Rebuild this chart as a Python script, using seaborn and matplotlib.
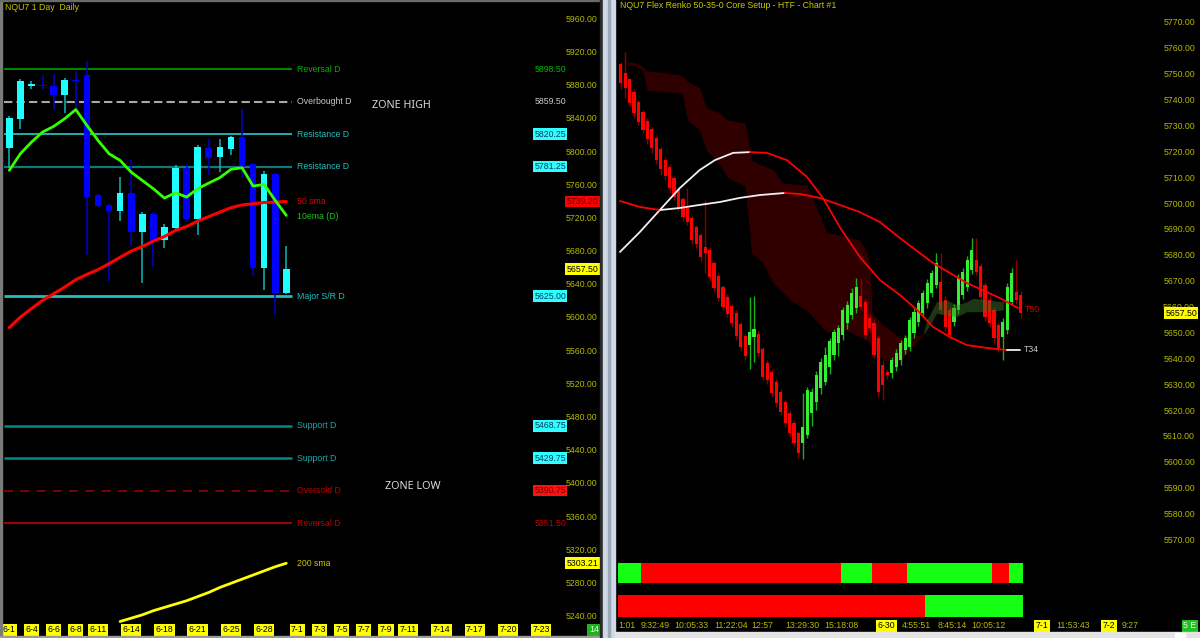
import numpy as np
import pandas as pd
import matplotlib
matplotlib.use("Agg")
import matplotlib.pyplot as plt
import matplotlib.transforms as mtransforms
from matplotlib.patches import Rectangle
import seaborn as sns

sns.set_style("dark")
plt.rcParams['font.family'] = ['Liberation Sans', 'DejaVu Sans']
plt.rcParams['axes.unicode_minus'] = False

# ======================= DATA: daily panel =======================
daily_open  = [5804, 5839, 5879, 5880, 5878, 5867, 5886, 5892, 5747, 5735, 5728, 5749, 5702,
               5724, 5693, 5707, 5779, 5718, 5804, 5793, 5802, 5817, 5784, 5659, 5772, 5629]
daily_close = [5840, 5885, 5880, 5878, 5867, 5886, 5884, 5745, 5734, 5728, 5749, 5702, 5724,
               5692, 5708, 5780, 5718, 5805, 5792, 5805, 5817, 5781, 5659, 5772, 5629, 5657.5]
daily_high  = [5842, 5887, 5884, 5892, 5893, 5888, 5897, 5908, 5748, 5736, 5769, 5789, 5727,
               5727, 5712, 5783, 5784, 5807, 5814, 5815, 5818, 5851, 5785, 5776, 5773, 5686]
daily_low   = [5779, 5827, 5875, 5873, 5849, 5846, 5851, 5675, 5733, 5643, 5716, 5686, 5641,
               5660, 5683, 5706, 5714, 5699, 5771, 5775, 5795, 5767, 5650, 5632, 5602, 5628]
ema10  = [5776.7, 5796.8, 5810.8, 5822.9, 5829.7, 5839.0, 5850.0, 5831.0, 5812.9, 5796.8, 5788.7,
          5774.6, 5764.6, 5754.6, 5743.3, 5749.8, 5744.5, 5754.6, 5761.4, 5767.9, 5777.9, 5780.0,
          5757.8, 5759.8, 5740.5, 5722.4]
sma50  = [5587.3, 5599.8, 5610.0, 5620.0, 5628.0, 5636.0, 5645.0, 5651.3, 5657.0, 5664.2, 5672.0,
          5679.4, 5685.0, 5691.4, 5697.0, 5704.3, 5709.0, 5715.5, 5721.0, 5726.4, 5731.7, 5735.0,
          5736.5, 5738.0, 5738.5, 5739.2]
sma200_bars = [10, 11, 12, 13, 14, 15, 16, 17, 18, 19, 20, 21, 22, 23, 24, 25]
sma200 = [5233, 5237, 5241, 5246, 5250, 5254, 5258, 5263, 5268, 5274, 5279, 5284, 5289, 5294,
          5299, 5303.21]
level_names  = ["Reversal D", "Overbought D", "Resistance D", "Resistance D", "Major S/R D",
                "Support D", "Support D", "Oversold D", "Reversal D"]
level_values = [5898.50, 5859.50, 5820.25, 5781.25, 5625.00, 5468.75, 5429.75, 5390.75, 5351.50]
daily_ticks = [5960, 5920, 5880, 5840, 5800, 5760, 5720, 5680, 5640, 5600, 5560, 5520, 5480,
               5440, 5400, 5360, 5320, 5280, 5240]
date_labels = ["6-1", "6-4", "6-6", "6-8", "6-11", "6-14", "6-18", "6-21", "6-25", "6-28",
               "7-1", "7-3", "7-5", "7-7", "7-9", "7-11", "7-14", "7-17", "7-20", "7-23"]
date_label_bars = [0, 2, 4, 6, 8, 11, 14, 17, 20, 23, 26, 28, 30, 32, 34, 36, 39, 42, 45, 48]

# ======================= DATA: renko panel =======================
renko_open  = [5753.8, 5750.2, 5747.8, 5743.1, 5739.2, 5735.3, 5731.7, 5728.5, 5725.0, 5720.8,
               5716.6, 5713.8, 5709.6, 5705.3, 5701.4, 5698.0, 5694.1, 5690.6, 5687.5, 5683.1,
               5681.9, 5676.7, 5671.8, 5667.4, 5663.8, 5660.2, 5657.4, 5653.2, 5648.6, 5645.1,
               5648.1, 5649.4, 5643.6, 5638.3, 5634.8, 5631.0, 5627.1, 5623.2, 5619.0, 5614.9,
               5611.2, 5607.1, 5610.3, 5619.0, 5623.2, 5628.4, 5631.0, 5636.5, 5641.3, 5645.8,
               5649.0, 5653.5, 5656.7, 5659.3, 5664.1, 5661.9, 5655.4, 5653.5, 5647.7, 5637.4,
               5634.8, 5634.2, 5636.7, 5639.3, 5643.2, 5644.5, 5649.6, 5654.1, 5657.4, 5661.2,
               5665.1, 5668.3, 5669.6, 5662.5, 5658.7, 5654.1, 5658.7, 5664.5, 5667.7, 5674.1,
               5678.0, 5675.7, 5668.3, 5662.5, 5658.7, 5652.9, 5648.3, 5650.9, 5661.9, 5665.7,
               5664.5]
renko_close = [5746.3, 5744.4, 5738.8, 5734.7, 5731.5, 5728.3, 5724.6, 5721.2, 5716.6, 5713.0,
               5710.5, 5705.7, 5702.5, 5698.0, 5694.5, 5692.8, 5685.7, 5684.2, 5679.0, 5680.6,
               5671.5, 5667.0, 5663.2, 5660.0, 5657.1, 5653.5, 5648.6, 5644.5, 5640.9, 5650.3,
               5651.2, 5641.9, 5632.9, 5631.6, 5626.5, 5622.6, 5619.4, 5614.8, 5611.0, 5607.4,
               5603.3, 5613.6, 5627.8, 5627.1, 5633.5, 5638.7, 5641.3, 5646.8, 5650.3, 5651.6,
               5658.7, 5660.6, 5665.4, 5667.7, 5659.9, 5649.0, 5651.6, 5641.3, 5627.1, 5629.7,
               5633.5, 5639.3, 5642.2, 5645.8, 5647.7, 5654.8, 5658.0, 5661.2, 5665.1, 5669.0,
               5672.8, 5676.7, 5658.7, 5652.2, 5649.0, 5659.3, 5670.9, 5673.5, 5678.0, 5681.9,
               5673.5, 5663.8, 5656.1, 5653.5, 5647.7, 5643.8, 5654.1, 5667.7, 5672.8, 5662.5,
               5657.5]
renko_high  = [5754.7, 5758.5, 5748.5, 5744.0, 5740.0, 5736.0, 5733.0, 5729.5, 5726.0, 5721.5,
               5718.0, 5715.0, 5710.5, 5706.0, 5702.5, 5705.7, 5695.0, 5691.5, 5688.5, 5701.2,
               5683.0, 5677.5, 5673.0, 5668.5, 5665.0, 5661.0, 5658.5, 5654.0, 5649.5, 5663.8,
               5664.1, 5650.5, 5644.5, 5639.5, 5636.0, 5632.0, 5628.0, 5624.0, 5620.0, 5616.0,
               5612.0, 5626.5, 5629.0, 5628.5, 5635.0, 5640.0, 5644.5, 5648.0, 5651.5, 5653.0,
               5660.0, 5662.0, 5667.0, 5670.9, 5670.9, 5663.0, 5657.0, 5655.0, 5649.0, 5639.0,
               5636.0, 5640.5, 5643.5, 5647.0, 5649.0, 5656.0, 5659.5, 5662.5, 5666.5, 5670.5,
               5674.0, 5680.6, 5680.6, 5664.0, 5660.0, 5661.0, 5672.5, 5675.0, 5679.5, 5686.4,
               5686.4, 5677.0, 5669.5, 5664.0, 5660.0, 5654.0, 5655.5, 5669.0, 5674.8, 5678.0,
               5666.0]
renko_low   = [5744.0, 5740.5, 5737.5, 5733.0, 5730.0, 5727.0, 5723.0, 5719.5, 5715.0, 5711.0,
               5709.0, 5704.0, 5701.0, 5697.0, 5693.0, 5691.5, 5684.0, 5682.5, 5677.5, 5672.8,
               5670.0, 5665.5, 5662.0, 5658.5, 5656.0, 5652.0, 5647.0, 5643.0, 5639.5, 5635.7,
               5638.7, 5640.5, 5631.5, 5630.0, 5625.0, 5621.0, 5618.0, 5613.5, 5609.5, 5606.0,
               5601.3, 5600.9, 5609.0, 5614.0, 5620.0, 5626.0, 5629.5, 5634.0, 5639.5, 5641.0,
               5647.0, 5651.5, 5655.0, 5657.5, 5658.5, 5647.5, 5650.0, 5640.0, 5625.2, 5623.9,
               5632.0, 5632.5, 5635.0, 5637.5, 5641.5, 5643.0, 5648.0, 5652.5, 5656.0, 5659.5,
               5663.5, 5667.0, 5657.0, 5650.5, 5647.5, 5652.5, 5657.0, 5663.0, 5666.0, 5672.5,
               5672.0, 5662.0, 5654.5, 5652.0, 5646.0, 5642.5, 5639.3, 5649.5, 5660.5, 5661.0,
               5655.5]
cloud_bars   = [-0.2, 1.4, 3.7, 5.0, 5.9, 10.4, 13.8, 15.1, 17.8, 19.3, 22.3, 24.0, 28.0, 29.5,
                32.0, 34.3, 36.5, 38.1, 41.9, 43.3, 46.3, 50.0, 51.0, 53.8, 55.4, 56.1, 56.6,
                58.9, 62.7, 65.0, 68.0]
cloud_top    = [5756.5, 5754.5, 5754.2, 5752.5, 5751.1, 5750.3, 5749.3, 5746.8, 5744.5, 5736.8,
                5734.8, 5732.1, 5731.0, 5716.5, 5714.5, 5712.8, 5707.8, 5707.5, 5707.0, 5701.2,
                5688.8, 5687.2, 5686.9, 5685.7, 5681.0, 5676.0, 5657.5, 5653.0, 5648.2, 5648.6,
                5649.0]
cloud_bottom = [5756.4, 5754.0, 5752.5, 5751.4, 5743.7, 5743.0, 5742.6, 5732.1, 5728.2, 5720.5,
                5715.0, 5710.0, 5706.5, 5680.7, 5676.8, 5669.1, 5665.5, 5662.5, 5658.5, 5656.0,
                5650.2, 5651.0, 5650.5, 5648.5, 5647.1, 5645.5, 5644.5, 5639.3, 5638.6, 5643.2,
                5649.0]
gcloud_bars   = [68.0, 68.9, 71.1, 73.4, 75.6, 77.9, 79.3, 82.4, 86.1]
gcloud_top    = [5649.0, 5654.8, 5661.9, 5662.5, 5660.6, 5661.9, 5663.2, 5662.5, 5661.9]
gcloud_bottom = [5649.0, 5650.9, 5657.4, 5656.7, 5656.1, 5658.0, 5658.0, 5658.0, 5658.7]
t34_bars = [-0.16, 4.3, 8.8, 13.3, 17.8, 21.2, 25.3, 29.1, 32.9, 37.4, 41.9, 45.5, 49.3, 53.8,
            58.3, 62.8, 66.7, 70.3, 74.1, 77.9, 82.4, 86.9, 89.9]
t34_vals = [5681.1, 5688.8, 5697.3, 5705.8, 5712.8, 5716.6, 5719.4, 5719.7, 5719.4, 5716.6,
            5710.1, 5702.0, 5690.7, 5679.2, 5670.3, 5664.5, 5658.7, 5652.1, 5648.2, 5645.1,
            5644.0, 5643.2, 5643.2]
t50_bars = [-0.16, 4.3, 8.8, 13.3, 17.8, 22.3, 26.8, 31.3, 36.9, 40.3, 44.8, 49.3, 53.8, 58.3,
            62.8, 70.3, 77.9, 85.3, 89.4]
t50_vals = [5700.8, 5698.5, 5697.3, 5698.1, 5699.3, 5700.4, 5702.0, 5703.1, 5703.9, 5703.5,
            5702.0, 5699.3, 5696.5, 5692.7, 5686.5, 5676.8, 5669.1, 5663.3, 5659.4]
strip1_runs = [("up", 5), ("down", 45), ("up", 7), ("down", 8), ("up", 19), ("down", 4), ("up", 3)]
strip2_runs = [("down", 69), ("up", 22)]
renko_ticks = [5770, 5760, 5750, 5740, 5730, 5720, 5710, 5700, 5690, 5680, 5670, 5660, 5650,
               5640, 5630, 5620, 5610, 5600, 5590, 5580, 5570]
time_labels = ["9:32:49", "10:05:33", "11:22:04", "12:57", "13:29:30", "15:18:08",
               "4:55:51", "8:45:14", "10:05:12", "11:53:43", "9:27"]
time_label_bars = [7.8, 16.0, 24.8, 31.8, 40.8, 49.7, 66.6, 74.7, 82.8, 101.7, 114.7]
day_labels = ["6-30", "7-1", "7-2"]
day_label_bars = [59.8, 94.8, 109.9]

# ======================= FIGURE =======================
W, H = 1200, 638
fig = plt.figure(figsize=(12, 6.38), dpi=100, facecolor="black")
TICK_COL = "#b8b800"
FS = 6.3

def setup(ax):
    ax.set_facecolor("black")
    for s in ax.spines.values():
        s.set_visible(False)
    ax.grid(False)
    ax.set_xticks([])

# ---------------- left (daily) ----------------
axL = fig.add_axes([3 / W, 0, 597 / W, 1])
setup(axL)
pxL = 0.8297
axL.set_ylim(5960 - (638 - 18.3) / pxL, 5960 + 18.3 / pxL)
axL.set_xlim(-0.569, -0.569 + 597 / 11.08)

lx0, lx1 = -0.48, 25.5
lvl_style = [("#00a000", "-", 1.2), ("#a8a8a8", (0, (4, 2)), 1.5), ("#20b0b0", "-", 1.4),
             ("#0f7a7a", "-", 1.6), ("#20c0c0", "-", 2.0), ("#008a8a", "-", 1.8),
             ("#008a8a", "-", 1.8), ("#8b0000", (0, (5, 4)), 1.3), ("#b00000", "-", 1.3)]
lbl_col = ["#00b400", "#c8c8c8", "#20c0c0", "#20c0c0", "#20c0c0", "#20a8a8", "#20a8a8",
           "#c00000", "#c00000"]
for v, (c, ls, lw) in zip(level_values, lvl_style):
    axL.hlines(v, lx0, lx1, colors=c, linestyles=ls, lw=lw, zorder=1)

idx = np.arange(len(daily_open))
o = np.array(daily_open); c = np.array(daily_close)
up = c >= o
bot = np.minimum(o, c)
hgt = np.maximum(np.abs(c - o), 1.6)
axL.vlines(idx, daily_low, daily_high, colors=np.where(up, "#10b8b8", "#0000d0"), lw=1.1, zorder=3)
axL.bar(idx, hgt, bottom=bot, width=0.6, color=np.where(up, "#20ffff", "#0000ff"),
        linewidth=0, zorder=4)

sns.lineplot(x=idx, y=sma50, ax=axL, color="#ff0000", lw=2.2, estimator=None, sort=False,
             legend=False, zorder=5)
sns.lineplot(x=idx, y=ema10, ax=axL, color="#33ff00", lw=2.0, estimator=None, sort=False,
             legend=False, zorder=6)
sns.lineplot(x=sma200_bars, y=sma200, ax=axL, color="#ffff00", lw=2.0, estimator=None,
             sort=False, legend=False, zorder=5)

lab_x = 26.0
val_x = 50.24
axis_x = 53.15
for name, v, col in zip(level_names, level_values, lbl_col):
    axL.text(lab_x, v, name, color=col, fontsize=FS, ha="left", va="center")
val_style = ["plain", "plain", "cyan", "cyan", "cyan", "cyan", "cyan", "red", "plain"]
for v, st, col in zip(level_values, val_style, lbl_col):
    if st == "plain":
        axL.text(val_x, v, f"{v:.2f}", color=col, fontsize=FS, ha="right", va="center")
    elif st == "cyan":
        axL.text(val_x, v, f"{v:.2f}", color="#003c64", fontsize=FS, ha="right", va="center",
                 bbox=dict(boxstyle="square,pad=0.15", fc="#30ffff", ec="none"))
    else:
        axL.text(val_x, v, f"{v:.2f}", color="#700000", fontsize=FS, ha="right", va="center",
                 bbox=dict(boxstyle="square,pad=0.15", fc="#ff1010", ec="none"))

axL.text(lab_x, sma50[-1], "50 sma", color="#e00000", fontsize=FS, ha="left", va="center")
axL.text(lab_x, ema10[-1] - 1, "10ema (D)", color="#20c020", fontsize=FS, ha="left", va="center")
axL.text(lab_x, sma200[-1], "200 sma", color="#c8c800", fontsize=FS, ha="left", va="center")

axL.set_yticks(daily_ticks)
axL.set_yticklabels([f"{t:.2f}" for t in daily_ticks])
axL.yaxis.tick_right()
axL.tick_params(axis="y", length=0, pad=-2.2, colors=TICK_COL, labelsize=FS)
for t in axL.get_yticklabels():
    t.set_ha("right")
axL.text(axis_x, sma50[-1], f"{sma50[-1]:.2f}", color="#600000", fontsize=FS, ha="right",
         va="center", bbox=dict(boxstyle="square,pad=0.15", fc="#ff0000", ec="none"), zorder=8)
axL.text(axis_x, daily_close[-1], f"{daily_close[-1]:.2f}", color="black", fontsize=FS,
         ha="right", va="center", bbox=dict(boxstyle="square,pad=0.15", fc="#ffff00", ec="none"),
         zorder=8)
axL.text(axis_x, sma200[-1], f"{sma200[-1]:.2f}", color="black", fontsize=FS, ha="right",
         va="center", bbox=dict(boxstyle="square,pad=0.15", fc="#ffff00", ec="none"), zorder=8)

axL.text(35.35, 5854.3, "ZONE HIGH", color="#d8d8d8", fontsize=7.8, family="Noto Sans",
         ha="center", va="center")
axL.text(36.43, 5395.1, "ZONE LOW", color="#d8d8d8", fontsize=7.8, family="Noto Sans",
         ha="center", va="center")
axL.text(2 / 597, 1 - 7 / H, "NQU7 1 Day  Daily", transform=axL.transAxes, color="#c8c800",
         fontsize=FS, ha="left", va="center")

trL = mtransforms.blended_transform_factory(axL.transData, axL.transAxes)
for lab, b in zip(date_labels, date_label_bars):
    axL.text(b, 1 - 630 / H, lab, transform=trL, color="black", fontsize=FS, ha="center",
             va="center", bbox=dict(boxstyle="square,pad=0.15", fc="#ffff00", ec="none"), zorder=9)
axL.text(52.77, 1 - 630 / H, "14", transform=trL, color="#d8ffd8", fontsize=FS, ha="center",
         va="center", bbox=dict(boxstyle="square,pad=0.2", fc="#20b020", ec="none"), zorder=9)

# ---------------- right (renko) ----------------
axR = fig.add_axes([615 / W, 0, 585 / W, 1])
setup(axR)
pxR = 2.5867
axR.set_ylim(5770 - 616 / pxR, 5770 + 22 / pxR)
xlimR = (-1.28, -1.28 + 585 / 4.444)
axR.set_xlim(*xlimR)

axR.fill_between(cloud_bars, cloud_bottom, cloud_top, color="#300000", linewidth=0, zorder=1)

ridx = np.arange(len(renko_open))
ro = np.array(renko_open); rc = np.array(renko_close)
rup = rc >= ro
axR.vlines(ridx, renko_low, renko_high, colors=np.where(rup, "#18b018", "#8a0000"), lw=1.0,
           zorder=2)
axR.bar(ridx, np.maximum(np.abs(rc - ro), 0.6), bottom=np.minimum(ro, rc), width=0.72,
        color=np.where(rup, "#33f033", "#ff0000"), linewidth=0, zorder=3)
axR.fill_between(gcloud_bars, gcloud_bottom, gcloud_top, color="#3a7a2a", alpha=0.45,
                 linewidth=0, zorder=4)


def draw_ma(ax, xs, ys):
    xs = np.asarray(xs, float); ys = np.asarray(ys, float)
    rising = np.diff(ys) >= 0
    start = 0
    for k in range(1, len(rising) + 1):
        if k == len(rising) or rising[k] != rising[start]:
            seg = slice(start, k + 1)
            sns.lineplot(x=xs[seg], y=ys[seg], ax=ax,
                         color="#f0f0f0" if rising[start] else "#ff0000", lw=1.3,
                         estimator=None, sort=False, legend=False, zorder=5)
            start = k


draw_ma(axR, t34_bars, t34_vals)
draw_ma(axR, t50_bars, t50_vals)
axR.text(90.6, t34_vals[-1], "T34", color="#c8c8c8", fontsize=FS, ha="left", va="center")
axR.text(90.9, t50_vals[-1] - 0.5, "T50", color="#c80000", fontsize=FS, ha="left", va="center")

axR.set_yticks(renko_ticks)
axR.set_yticklabels([f"{t:.2f}" for t in renko_ticks])
axR.yaxis.tick_right()
axR.tick_params(axis="y", length=0, pad=-3.6, colors=TICK_COL, labelsize=FS)
for t in axR.get_yticklabels():
    t.set_ha("right")
axR.text(129.68, renko_close[-1], f"{renko_close[-1]:.2f}", color="black", fontsize=FS,
         ha="right", va="center", bbox=dict(boxstyle="square,pad=0.15", fc="#ffff00", ec="none"),
         zorder=8)
axR.text(5 / 585, 1 - 5 / H, "NQU7 Flex Renko 50-35-0 Core Setup - HTF - Chart #1",
         transform=axR.transAxes, color="#c8c800", fontsize=FS, ha="left", va="center")

trR = mtransforms.blended_transform_factory(axR.transData, axR.transAxes)
yl = 1 - 626 / H
axR.text(-0.5, yl, "1:01", transform=trR, color=TICK_COL, fontsize=FS, ha="left", va="center")
for lab, b in zip(time_labels, time_label_bars):
    axR.text(b, yl, lab, transform=trR, color=TICK_COL, fontsize=FS, ha="center", va="center")
for lab, b in zip(day_labels, day_label_bars):
    axR.text(b, yl, lab, transform=trR, color="black", fontsize=FS, ha="center", va="center",
             bbox=dict(boxstyle="square,pad=0.15", fc="#ffff00", ec="none"))
axR.text(128.1, yl, "5 E", transform=trR, color="#e8ffe8", fontsize=FS, ha="center",
         va="center", bbox=dict(boxstyle="square,pad=0.2", fc="#20c020", ec="none"))

# indicator strips
axS = fig.add_axes([615 / W, 1 - 620 / H, 585 / W, 60 / H])
setup(axS)
axS.set_yticks([])
axS.patch.set_alpha(0)
axS.set_xlim(*xlimR)
axS.set_ylim(620, 560)
colmap = {"up": "#14ff14", "down": "#ff0000"}
for runs, y0, h in [(strip1_runs, 563, 20), (strip2_runs, 595, 22)]:
    states = [s for s, n in runs for _ in range(n)]
    axS.bar(np.arange(len(states)), [h] * len(states), bottom=y0, width=1.02,
            color=[colmap[s] for s in states], linewidth=0)

# ---------------- frame decorations ----------------
fig.add_artist(Rectangle((0, 0), 2 / W, 1, transform=fig.transFigure, color="#7a7a7a"))
fig.add_artist(Rectangle((0, 1 - 1 / H), 600 / W, 1 / H, transform=fig.transFigure,
                         color="#6a6a6a"))
fig.add_artist(Rectangle((0, 0), 600 / W, 2 / H, transform=fig.transFigure, color="#9a9a9a"))
fig.add_artist(Rectangle((600 / W, 0), 3 / W, 1, transform=fig.transFigure, color="#2a2a2a"))
fig.add_artist(Rectangle((603 / W, 0), 12 / W, 1, transform=fig.transFigure, color="#cfd9e6"))
fig.add_artist(Rectangle((608 / W, 0), 1.5 / W, 1, transform=fig.transFigure, color="#9aa8b8"))
fig.add_artist(Rectangle((615 / W, 0), 585 / W, 6 / H, transform=fig.transFigure,
                         color="#e4e4e4"))
fig.add_artist(Rectangle((1175 / W, 0), 10 / W, 5 / H, transform=fig.transFigure,
                         color="#ffffff"))

fig.savefig("out.png", dpi=100, facecolor="black")
